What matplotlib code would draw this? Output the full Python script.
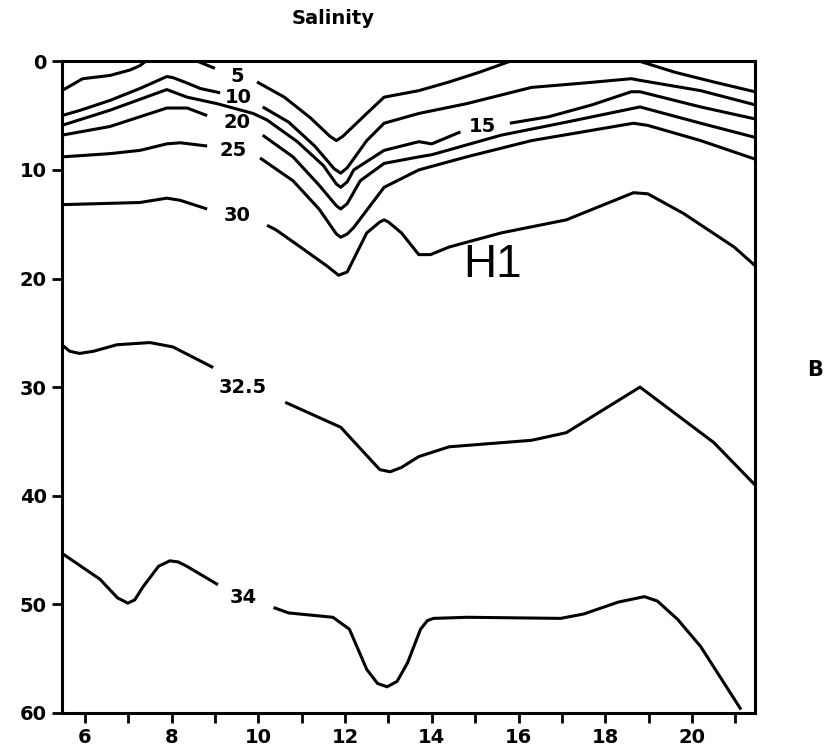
"""Salinity section: isohalines vs station (x) and depth (y, down)."""
import numpy as np
import matplotlib
matplotlib.use("Agg")
import matplotlib.pyplot as plt

nan = np.nan

# isohalines; nan = gap where the label sits
s5_x = [5.47, 5.95, 6.58, 7.04, 7.27, 7.4, nan, 8.6, 9.0, nan, 9.97, 10.6, 11.2, 11.65, 11.8, 11.95, 12.5, 12.9,
        13.7, 14.4, 15.1, 15.8, nan, 18.8, 19.6, 20.5, 21.45]
s5_y = [2.7, 1.6, 1.3, 0.8, 0.4, 0.0, nan, 0.0, 0.65, nan, 1.9, 3.3, 5.2, 6.9, 7.3, 6.9, 4.8, 3.3,
        2.7, 1.9, 1.0, 0.0, nan, 0.0, 1.0, 1.9, 2.8]

s10_x = [5.47, 5.9, 6.58, 7.27, 7.89, 8.03, 8.36, 8.66, 9.12, nan, 10.1, 10.7, 11.3, 11.75, 11.9, 12.05, 12.5,
         12.9, 13.7, 14.8, 16.3, 17.5, 18.6, 18.8, 20.2, 21.45]
s10_y = [5.0, 4.5, 3.6, 2.5, 1.4, 1.5, 2.0, 2.5, 2.9, nan, 4.2, 5.6, 7.8, 9.9, 10.3, 9.8, 7.3,
         5.7, 4.8, 3.9, 2.4, 2.0, 1.6, 1.75, 2.7, 4.0]

s15_x = [5.47, 6.58, 7.89, 8.36, 9.05, 9.88, 10.2, 10.9, 11.5, 11.8, 11.9, 12.05, 12.2, 12.9, 13.7, 14.0, 14.66,
         nan, 15.8, 16.7, 17.7, 18.6, 18.8, 20.2, 21.45]
s15_y = [5.9, 4.5, 2.6, 3.3, 3.9, 4.8, 5.4, 7.4, 9.6, 11.3, 11.6, 11.1, 10.0, 8.2, 7.4, 7.6, 6.5,
         nan, 5.7, 5.1, 4.0, 2.8, 2.8, 4.2, 5.3]

s20_x = [5.47, 6.58, 7.89, 8.36, 8.82, nan, 10.1, 10.8, 11.4, 11.8, 11.9, 12.05, 12.35, 12.9, 13.7, 14.0, 15.6,
         17.1, 18.8, 20.2, 21.45]
s20_y = [6.8, 6.0, 4.3, 4.3, 5.0, nan, 6.8, 8.8, 11.4, 13.3, 13.6, 13.1, 11.0, 9.4, 8.8, 8.6, 6.8,
         5.6, 4.2, 5.7, 7.0]

s25_x = [5.47, 6.58, 7.27, 7.89, 8.2, 8.82, nan, 10.04, 10.8, 11.4, 11.8, 11.9, 12.05, 12.2, 12.9, 13.7, 14.8,
         16.3, 18.65, 18.98, 20.2, 21.45]
s25_y = [8.8, 8.5, 8.2, 7.6, 7.5, 7.8, nan, 8.9, 11.0, 13.6, 15.9, 16.2, 15.9, 15.3, 11.6, 10.0, 8.8,
         7.3, 5.7, 5.9, 7.3, 9.0]

s30_x = [5.47, 7.27, 7.89, 8.2, 8.82, nan, 10.2, 10.4, 10.97, 11.6, 11.85, 12.05, 12.5, 12.8, 12.9, 13.0, 13.3,
         13.7, 13.97, 14.4, 15.6, 17.1, 18.65, 18.98, 19.8, 20.97, 21.45]
s30_y = [13.2, 13.0, 12.6, 12.8, 13.6, nan, 15.1, 15.5, 17.1, 18.9, 19.7, 19.4, 15.8, 14.8, 14.6, 14.8, 15.8,
         17.8, 17.8, 17.1, 15.8, 14.6, 12.1, 12.2, 14.0, 17.1, 18.8]

s325_x = [5.47, 5.65, 5.88, 6.2, 6.74, 7.5, 8.03, 8.96, nan, 10.62, 11.9, 12.8, 13.04, 13.3, 13.7, 14.4, 16.3,
          17.1, 18.8, 20.5, 21.45]
s325_y = [26.1, 26.7, 26.9, 26.7, 26.1, 25.9, 26.3, 28.2, nan, 31.4, 33.7, 37.6, 37.8, 37.4, 36.4, 35.5, 34.9,
          34.2, 30.0, 35.1, 39.0]

s34_x = [5.47, 6.35, 6.75, 6.99, 7.15, 7.34, 7.7, 7.96, 8.15, 8.35, 9.07, nan, 10.35, 10.7, 11.72, 12.1, 12.5,
         12.75, 12.97, 13.2, 13.44, 13.74, 13.9, 14.04, 14.82, 16.97, 17.5, 18.3, 18.9, 19.2, 19.67, 20.2, 21.13]
s34_y = [45.3, 47.7, 49.4, 49.9, 49.6, 48.4, 46.5, 46.0, 46.1, 46.5, 48.2, nan, 50.3, 50.8, 51.2, 52.3, 56.0,
         57.3, 57.6, 57.1, 55.4, 52.3, 51.5, 51.3, 51.2, 51.3, 50.9, 49.8, 49.3, 49.7, 51.4, 53.9, 59.7]

lines = [(s5_x, s5_y), (s10_x, s10_y), (s15_x, s15_y), (s20_x, s20_y), (s25_x, s25_y),
         (s30_x, s30_y), (s325_x, s325_y), (s34_x, s34_y)]

labels = ["5", "10", "15", "20", "25", "30", "32.5", "34"]
label_x = [9.51, 9.53, 15.17, 9.5, 9.42, 9.5, 9.65, 9.65]
label_y = [1.4, 3.3, 6.0, 5.6, 8.2, 14.2, 30.0, 49.4]

xticks = [6, 8, 10, 12, 14, 16, 18, 20]
xminor = [7, 9, 11, 13, 15, 17, 19, 21]
yticks = [0, 10, 20, 30, 40, 50, 60]

plt.rcParams["font.family"] = ["DejaVu Sans"]
fig = plt.figure(figsize=(8.36, 7.48), dpi=100)
ax = fig.add_axes([0.074, 0.047, 0.829, 0.871])

for x, y in lines:
    ax.plot(x, y, color="black", lw=2.2, solid_joinstyle="round", solid_capstyle="butt")

for t, x, y in zip(labels, label_x, label_y):
    ax.text(x, y, t, ha="center", va="center", fontsize=14, fontweight="bold")

ax.text(15.4, 18.8, "H1", ha="center", va="center", fontsize=33, family="Liberation Sans")

ax.set_xlim(5.47, 21.45)
ax.set_ylim(60, 0)
ax.set_xticks(xticks)
ax.set_xticks(xminor, minor=True)
ax.set_yticks(yticks)
ax.tick_params(which="both", direction="out", length=7, width=2, labelsize=14, pad=4)
for lab in ax.get_xticklabels() + ax.get_yticklabels():
    lab.set_fontweight("bold")
for sp in ax.spines.values():
    sp.set_linewidth(2.2)

fig.text(333 / 836, 1 - 18 / 748, "Salinity", ha="center", va="center", fontsize=14, fontweight="bold")
fig.text(815 / 836, 1 - 370 / 748, "B", ha="center", va="center", fontsize=15, fontweight="bold")

fig.savefig("out.png", dpi=100)
